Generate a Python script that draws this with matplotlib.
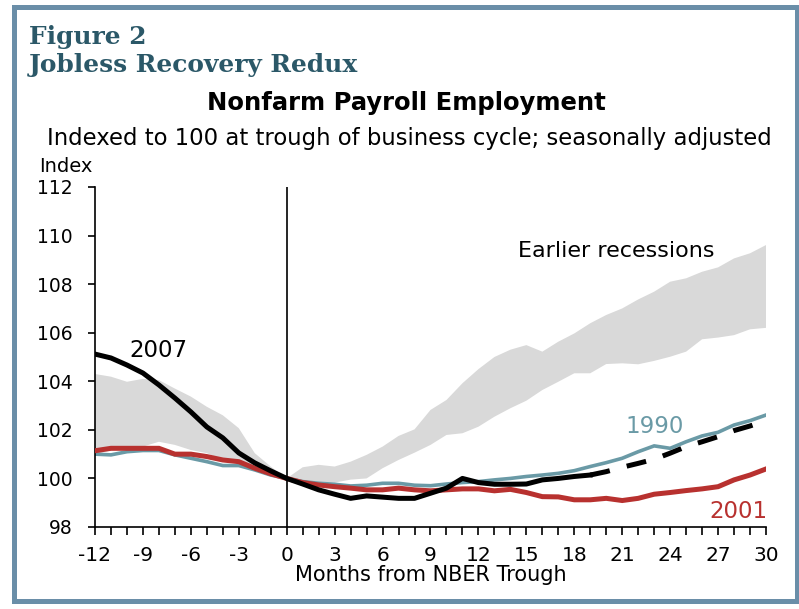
import matplotlib.pyplot as plt
from matplotlib.patches import Rectangle
import numpy as np

# data
months = np.arange(-12, 31)

rec_2007 = [105.12, 104.96, 104.67, 104.34, 103.85, 103.31, 102.74, 102.12, 101.67,
            101.05, 100.64, 100.31, 100.0, 99.77, 99.53, 99.35, 99.18, 99.28, 99.23,
            99.18, 99.18, 99.39, 99.6, 100.0, 99.83, 99.76, 99.76, 99.77, 99.94,
            100.0, 100.08, 100.14]
proj_2007 = [100.14, 100.28, 100.46, 100.62, 100.79, 101.04, 101.31, 101.51, 101.72,
             101.97, 102.16, 102.38]

rec_1990 = [101.0, 100.97, 101.1, 101.15, 101.15, 100.97, 100.83, 100.69, 100.53,
            100.53, 100.35, 100.14, 100.0, 99.87, 99.8, 99.76, 99.69, 99.72, 99.8,
            99.8, 99.72, 99.7, 99.77, 99.83, 99.87, 99.94, 100.0, 100.08, 100.14,
            100.21, 100.32, 100.49, 100.65, 100.83, 101.1, 101.34, 101.24, 101.51,
            101.75, 101.9, 102.2, 102.38, 102.61]

rec_2001 = [101.14, 101.24, 101.24, 101.24, 101.24, 101.0, 101.0, 100.9, 100.76,
            100.69, 100.42, 100.19, 100.0, 99.83, 99.73, 99.66, 99.6, 99.53, 99.53,
            99.6, 99.53, 99.49, 99.53, 99.57, 99.57, 99.49, 99.55, 99.42, 99.25,
            99.24, 99.12, 99.12, 99.18, 99.09, 99.18, 99.35, 99.42, 99.5, 99.57,
            99.66, 99.94, 100.14, 100.39]

band_upper = [104.3, 104.19, 103.98, 104.1, 104.05, 103.7, 103.37, 102.95, 102.6,
              102.07, 101.04, 100.49, 100.0, 100.46, 100.56, 100.49, 100.69, 100.97,
              101.31, 101.75, 102.02, 102.82, 103.23, 103.92, 104.5, 105.0, 105.3,
              105.49, 105.22, 105.63, 105.97, 106.39, 106.73, 107.0, 107.37, 107.69,
              108.1, 108.24, 108.51, 108.69, 109.06, 109.27, 109.61]
band_lower = [101.0, 101.15, 101.2, 101.31, 101.51, 101.38, 101.17, 101.04, 100.76,
              100.69, 100.42, 100.19, 100.0, 99.87, 99.83, 99.83, 99.95, 100.0,
              100.42, 100.76, 101.06, 101.38, 101.79, 101.86, 102.13, 102.54, 102.89,
              103.2, 103.64, 103.98, 104.33, 104.33, 104.71, 104.74, 104.7, 104.84,
              105.01, 105.22, 105.73, 105.8, 105.9, 106.14, 106.2]

x_ticks = list(range(-12, 31, 3))
y_ticks = list(range(98, 113, 2))

title_color = "#2b5868"
frame_color = "#6a8ea8"
teal = "#6a9aa6"
red = "#b8312f"
band = "#d9d9d9"

fig = plt.figure(figsize=(7.99, 6.09), dpi=100)
W, H = 799, 609

ax = fig.add_axes([95 / W, 1 - 527 / H, (766 - 95) / W, (527 - 187) / H])

ax.fill_between(months, band_lower, band_upper, facecolor=band, edgecolor="none", zorder=1)
ax.plot(months, rec_1990, color=teal, lw=2.6, solid_joinstyle="miter", zorder=2)
ax.plot(months, rec_2001, color=red, lw=3.6, solid_joinstyle="miter", zorder=3)
ax.plot(months[:len(rec_2007)], rec_2007, color="black", lw=3.6, zorder=4)
ax.plot(months[len(rec_2007) - 1:], proj_2007, color="black", lw=3.6,
        dashes=(4, 3.5), zorder=4)
ax.axvline(0, color="black", lw=1.2, zorder=5)

ax.set_xlim(-12, 30)
ax.set_ylim(98, 112)
ax.spines["top"].set_visible(False)
ax.spines["right"].set_visible(False)
ax.spines["left"].set_linewidth(1.2)
ax.spines["bottom"].set_linewidth(1.2)

ax.set_xticks(x_ticks)
ax.set_xticks(months, minor=True)
ax.set_xticklabels([str(t) for t in x_ticks], fontsize=14.5)
ax.tick_params(axis="x", which="both", direction="out", length=6, width=1.2, pad=8)
ax.set_yticks(y_ticks)
ax.set_yticklabels([str(t) for t in y_ticks], fontsize=13.5)
ax.tick_params(axis="y", direction="out", length=5, width=1.2, pad=11)
ax.set_xlabel("Months from NBER Trough", fontsize=15, labelpad=0)

ax.text(14.45, 109.35, "Earlier recessions", fontsize=16, ha="left", va="center")
ax.text(-9.85, 105.25, "2007", fontsize=16.5, ha="left", va="center")
ax.text(21.2, 102.12, "1990", fontsize=16.5, color=teal, ha="left", va="center")
ax.text(26.45, 98.62, "2001", fontsize=16.5, color=red, ha="left", va="center")

# header texts
fig.text(29 / W, 1 - 44 / H, "Figure 2", family="DejaVu Serif", weight="bold",
         fontsize=17.9, color=title_color, ha="left", va="baseline")
fig.text(29 / W, 1 - 72 / H, "Jobless Recovery Redux", family="DejaVu Serif",
         weight="bold", fontsize=17.9, color=title_color, ha="left", va="baseline")
fig.text(406.5 / W, 1 - 110 / H, "Nonfarm Payroll Employment", weight="bold",
         fontsize=17.5, ha="center", va="baseline")
fig.text(409 / W, 1 - 145 / H,
         "Indexed to 100 at trough of business cycle; seasonally adjusted",
         fontsize=16.4, ha="center", va="baseline")
fig.text(39 / W, 1 - 172 / H, "Index", fontsize=14, ha="left", va="baseline")

# outer frame
fig.patches.append(Rectangle((13.5 / W, 1 - 601 / H), (796.5 - 13.5) / W,
                             (601 - 6.5) / H, transform=fig.transFigure,
                             fill=False, edgecolor=frame_color, lw=3.6))

fig.savefig("out.png", dpi=100)
